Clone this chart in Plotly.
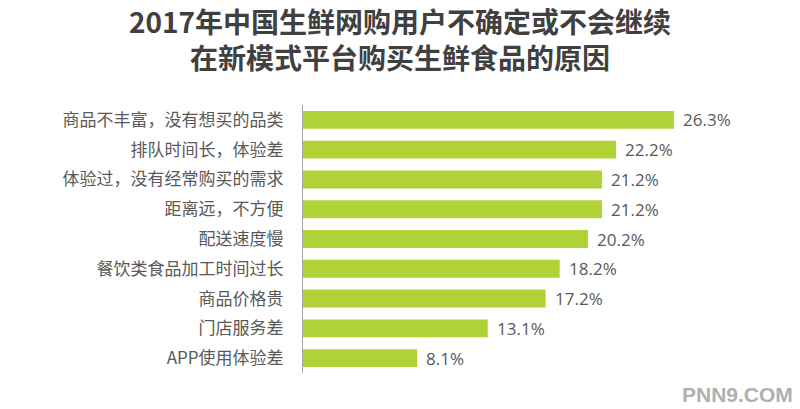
import plotly.graph_objects as go

categories = [
    "商品不丰富，没有想买的品类",
    "排队时间长，体验差",
    "体验过，没有经常购买的需求",
    "距离远，不方便",
    "配送速度慢",
    "餐饮类食品加工时间过长",
    "商品价格贵",
    "门店服务差",
    "APP使用体验差",
]
values = [26.3, 22.2, 21.2, 21.2, 20.2, 18.2, 17.2, 13.1, 8.1]

title_text = "2017年中国生鲜网购用户不确定或不会继续<br>在新模式平台购买生鲜食品的原因"
watermark = "PNN9.COM"

CJK = "Noto Sans CJK SC, sans-serif"

fig = go.Figure(
    go.Bar(
        x=values,
        y=categories,
        orientation="h",
        marker=dict(color="#b0d236", line=dict(width=0)),
        width=0.6,
        hoverinfo="skip",
    )
)

for c, v in zip(categories, values):
    fig.add_annotation(
        x=v, y=c, xref="x", yref="y",
        text=f"{v:.1f}%",
        showarrow=False, xanchor="left", xshift=7,
        font=dict(family="Open Sans, Noto Sans, sans-serif", size=17, color="#595959"),
    )

# title as annotation (centered over the page)
fig.add_annotation(
    xref="paper", yref="paper", x=0.5, y=1.245, xanchor="center", yanchor="middle",
    xshift=-(303 - 40) / 2,
    text=title_text, showarrow=False, align="center",
    font=dict(family=CJK, size=28, color="#404040", weight="bold"),
)

fig.add_annotation(
    xref="paper", yref="paper", x=1.0, y=-0.03, xanchor="right", yanchor="top",
    xshift=35, text=watermark, showarrow=False,
    font=dict(family="Liberation Sans, Arial, sans-serif", size=21, color="#b0b0b0", weight="bold"),
)

fig.update_layout(
    width=800,
    height=409,
    margin=dict(l=303, r=40, t=105, b=36),
    paper_bgcolor="white",
    plot_bgcolor="white",
    showlegend=False,
    xaxis=dict(
        range=[0, 32.4],
        visible=False,
        showgrid=False,
        zeroline=False,
    ),
    yaxis=dict(
        autorange="reversed",
        showline=True,
        linecolor="#a6a6a6",
        linewidth=1,
        showgrid=False,
        ticks="outside",
        ticklen=15,
        tickcolor="rgba(0,0,0,0)",
        tickfont=dict(family=CJK, size=17, color="#595959"),
    ),
)

fig.write_html("out.html")
